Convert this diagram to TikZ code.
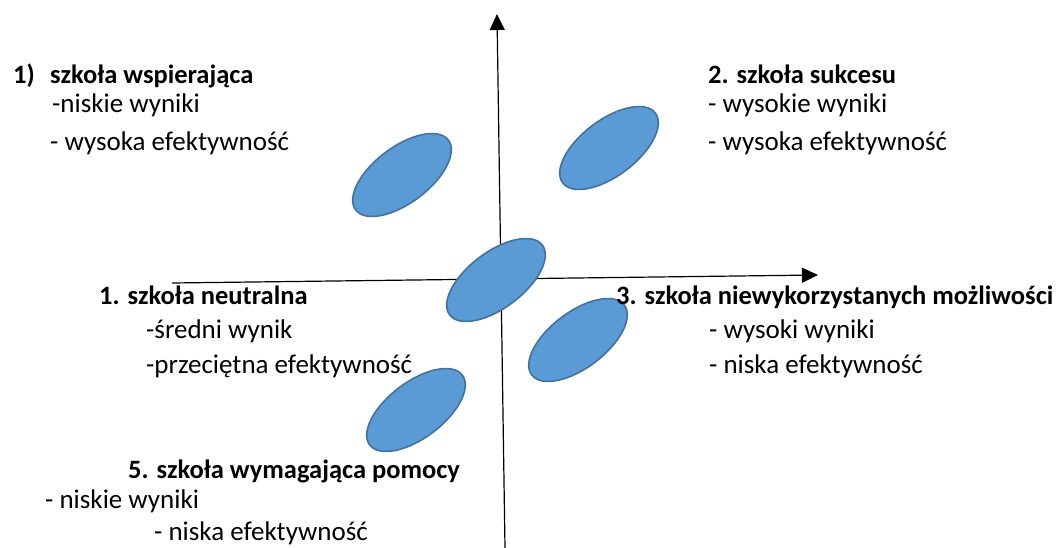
\documentclass[tikz,border=0pt]{standalone}
\usepackage{fontspec}
\setmainfont{Carlito}
\usetikzlibrary{arrows.meta, shapes.geometric}

\definecolor{blobfill}{HTML}{5B9BD5}
\definecolor{blobline}{HTML}{41719C}

\begin{document}
\begin{tikzpicture}[
    x=1pt, y=-1pt,
    blob/.style={
        ellipse,
        draw=blobline,
        line width=1.6pt,
        fill=blobfill,
        minimum width=116pt,
        minimum height=56pt,
        inner sep=0pt,
        rotate=37
    },
    head/.style={
        anchor=base west,
        inner sep=0pt,
        font=\fontsize{26.5}{30}\selectfont\bfseries
    },
    item/.style={
        anchor=base west,
        inner sep=0pt,
        font=\fontsize{27}{30}\selectfont
    },
    axis/.style={
        line width=1.2pt,
        -{Triangle[length=16pt, width=15pt]}
    }
    ]
    \useasboundingbox (0,0) rectangle (1058,548);

    % axes
    \coordinate (xs) at (172,283);
    \coordinate (xe) at (818,275);
    \coordinate (ys) at (505,548);
    \coordinate (ye) at (497,14);
    \draw[axis] (xs) -- (xe);
    \draw[axis] (ys) -- (ye);

    % schools
    \node[blob] (wsp) at (402,175) {};
    \node[blob] (suk) at (609,148) {};
    \node[blob] (neu) at (496,280) {};
    \node[blob] (nie) at (578,340) {};
    \node[blob] (pom) at (416,410) {};

    % labels
    \node[head] (wspnum) at (13,84) {1)};
    \node[head] (wsph) at (50,84) {szkoła wspierająca};
    \node[item] (wspa) at (52,113) {-niskie wyniki};
    \node[item] (wspb) at (50,151) {- wysoka efektywność};

    \node[head] (sukh) at (708,84) {2. szkoła sukcesu};
    \node[item] (suka) at (708,113) {- wysokie wyniki};
    \node[item] (sukb) at (708,151) {- wysoka efektywność};

    \node[head] (neuh) at (99,305) {1. szkoła neutralna};
    \node[item] (neua) at (146,338) {-średni wynik};
    \node[item] (neub) at (146,373) {-przeciętna efektywność};

    \node[head] (nieh) at (616,305) {3. szkoła niewykorzystanych możliwości};
    \node[item] (niea) at (709,338) {- wysoki wyniki};
    \node[item] (nieb) at (709,373) {- niska efektywność};

    \node[head] (pomh) at (128,478) {5. szkoła wymagająca pomocy};
    \node[item] (poma) at (45,508) {- niskie wyniki};
    \node[item] (pomb) at (154,540) {- niska efektywność};
\end{tikzpicture}
\end{document}
